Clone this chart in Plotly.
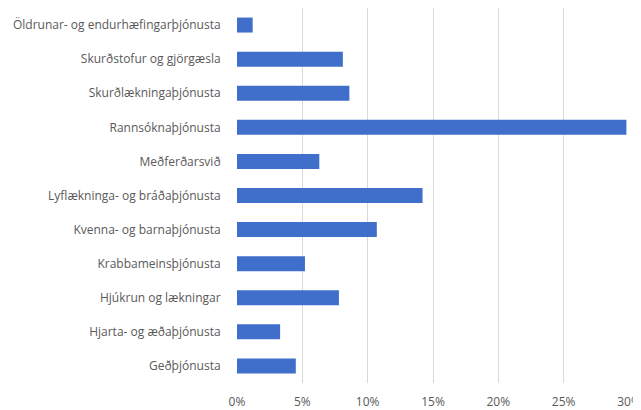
import plotly.graph_objects as go

# Flokkar (neðst -> efst) og hlutfall
categories = [
    "Geðþjónusta",
    "Hjarta- og æðaþjónusta",
    "Hjúkrun og lækningar",
    "Krabbameinsþjónusta",
    "Kvenna- og barnaþjónusta",
    "Lyflækninga- og bráðaþjónusta",
    "Meðferðarsvið",
    "Rannsóknaþjónusta",
    "Skurðlækningaþjónusta",
    "Skurðstofur og gjörgæsla",
    "Öldrunar- og endurhæfingarþjónusta",
]
shares = [0.045, 0.033, 0.078, 0.052, 0.107, 0.142, 0.063, 0.298, 0.086, 0.081, 0.012]

tick_vals = [0, 0.05, 0.10, 0.15, 0.20, 0.25, 0.30]

fig = go.Figure()
fig.add_trace(
    go.Bar(
        x=shares,
        y=categories,
        orientation="h",
        marker=dict(color="#3F6FCB", line=dict(width=0)),
        hoverinfo="x+y",
    )
)

# síðan hefur 8px spássíu, svo myndin er minnkuð um það
fig.update_layout(
    width=633,
    height=402,
    margin=dict(l=229, r=12, t=0, b=27),
    paper_bgcolor="white",
    plot_bgcolor="white",
    bargap=0.56,
    showlegend=False,
    font=dict(family="Open Sans, Liberation Sans, sans-serif", size=12, color="#595959"),
)
fig.update_xaxes(
    range=[0, 0.30],
    tickvals=tick_vals,
    tickformat=".0%",
    showgrid=True,
    gridcolor="#D9D9D9",
    gridwidth=1,
    zeroline=False,
    showline=False,
    ticks="outside",
    ticklen=8,
    tickcolor="white",
    automargin=False,
    tickfont=dict(size=12, color="#595959"),
)
fig.update_yaxes(
    showgrid=False,
    zeroline=False,
    showline=False,
    ticks="outside",
    ticklen=13,
    tickcolor="white",
    automargin=False,
    tickfont=dict(size=12, color="#595959"),
)

fig.write_html("out.html")
